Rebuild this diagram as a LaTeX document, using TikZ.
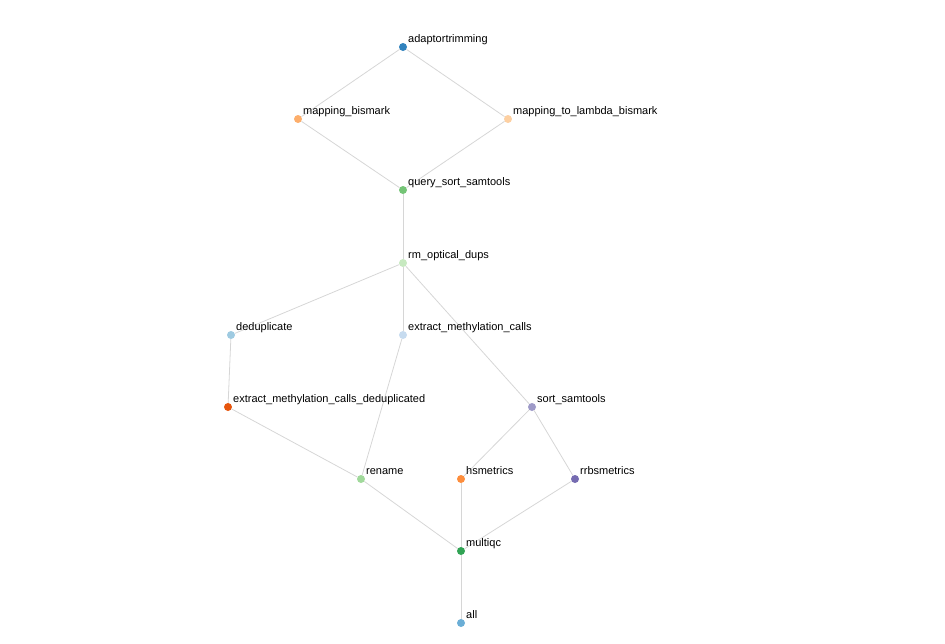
\documentclass[tikz,border=0pt]{standalone}
\usepackage{fontspec}
\setmainfont{Liberation Sans}
\usepackage{tikz}
\usetikzlibrary{positioning}
\usepackage{xcolor}

\definecolor{cTrim}{HTML}{3182BD}
\definecolor{cMapB}{HTML}{FDAE6B}
\definecolor{cMapL}{HTML}{FDD0A2}
\definecolor{cQsort}{HTML}{74C476}
\definecolor{cRmdup}{HTML}{C7E9C0}
\definecolor{cDedup}{HTML}{9ECAE1}
\definecolor{cExtr}{HTML}{C6DBEF}
\definecolor{cExtrD}{HTML}{E6550D}
\definecolor{cSort}{HTML}{9E9AC8}
\definecolor{cRename}{HTML}{A1D99B}
\definecolor{cHsm}{HTML}{FD8D3C}
\definecolor{cRrbs}{HTML}{756BB1}
\definecolor{cMqc}{HTML}{31A354}
\definecolor{cAll}{HTML}{6BAED6}
\definecolor{edgegray}{HTML}{D6D6D6}

\begin{document}
\begin{tikzpicture}[x=1pt, y=-1pt,
    dot/.style={circle, inner sep=0pt, minimum size=8pt, fill=#1},
    link/.style={draw=edgegray, line width=0.8pt},
    lbl/.style={anchor=base west, inner sep=0pt, font=\fontsize{11}{13}\selectfont}
]
\useasboundingbox (0,0) rectangle (945,643);

% rule nodes
\node[dot=cTrim]   (trim)   at (403,47)  {};
\node[dot=cMapB]   (mapb)   at (298,119) {};
\node[dot=cMapL]   (mapl)   at (508,119) {};
\node[dot=cQsort]  (qsort)  at (403,190) {};
\node[dot=cRmdup]  (rmdup)  at (403,263) {};
\node[dot=cDedup]  (dedup)  at (231,335) {};
\node[dot=cExtr]   (extr)   at (403,335) {};
\node[dot=cExtrD]  (extrd)  at (228,407) {};
\node[dot=cSort]   (sort)   at (532,407) {};
\node[dot=cRename] (rename) at (361,479) {};
\node[dot=cHsm]    (hsm)    at (461,479) {};
\node[dot=cRrbs]   (rrbs)   at (575,479) {};
\node[dot=cMqc]    (mqc)    at (461,551) {};
\node[dot=cAll]    (all)    at (461,623) {};

% dependencies
\foreach \a/\b in {trim/mapb, trim/mapl, mapb/qsort, mapl/qsort, qsort/rmdup,
    rmdup/dedup, rmdup/extr, rmdup/sort, dedup/extrd, extrd/rename, extr/rename,
    sort/hsm, sort/rrbs, rename/mqc, hsm/mqc, rrbs/mqc, mqc/all}
  \draw[link] (\a) -- (\b);

% labels
\foreach \n/\t in {trim/adaptortrimming, mapb/mapping\_bismark,
    mapl/mapping\_to\_lambda\_bismark, qsort/query\_sort\_samtools,
    rmdup/rm\_optical\_dups, dedup/deduplicate, extr/extract\_methylation\_calls,
    extrd/extract\_methylation\_calls\_deduplicated, sort/sort\_samtools,
    rename/rename, hsm/hsmetrics, rrbs/rrbsmetrics, mqc/multiqc, all/all}
  \node[lbl] (\n-lbl) at ([xshift=5pt, yshift=4.7pt]\n.center) {\t};
\end{tikzpicture}
\end{document}
